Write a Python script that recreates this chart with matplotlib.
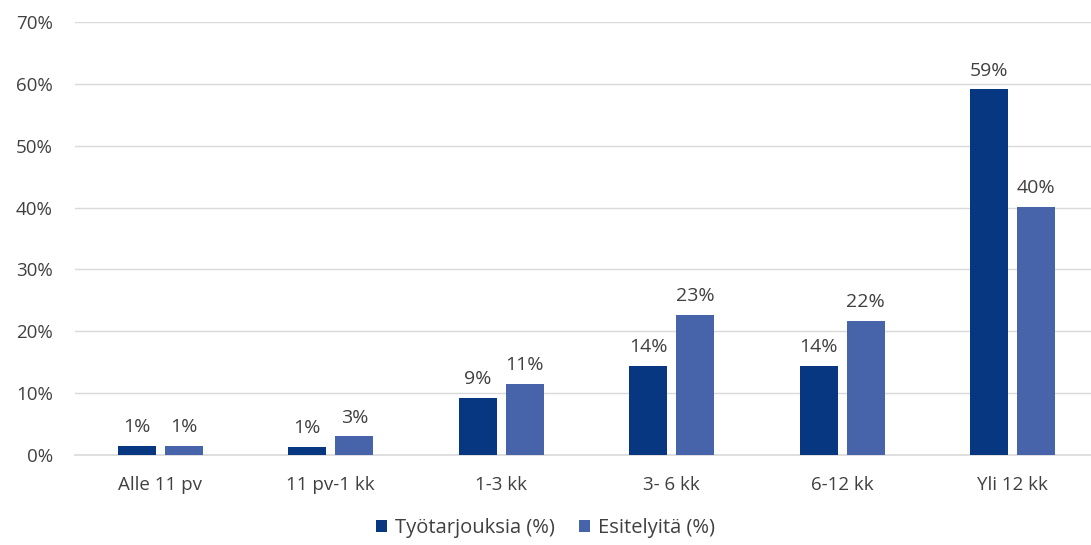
import numpy as np
import matplotlib.pyplot as plt
from matplotlib.ticker import FuncFormatter

# data
categories = ['Alle 11 pv', '11 pv-1 kk', '1-3 kk', '3- 6 kk', '6-12 kk', 'Yli 12 kk']
tyotarjouksia = [1.4, 1.3, 9.2, 14.4, 14.4, 59.1]
esittelyita = [1.4, 3.0, 11.5, 22.6, 21.6, 40.1]
labels_tyo = ['1%', '1%', '9%', '14%', '14%', '59%']
labels_esi = ['1%', '3%', '11%', '23%', '22%', '40%']
series_names = ['Työtarjouksia (%)', 'Esitelyitä (%)']

plt.rcParams['font.family'] = ['Open Sans', 'DejaVu Sans']
txt = '#404040'
fs = 13.5

fig = plt.figure(figsize=(10.91, 5.45), dpi=100)
ax = fig.add_axes([75 / 1091, 90 / 545, 1023 / 1091, 433 / 545])

x = np.arange(len(categories))
w = 0.223
gap = 0.053
b1 = ax.bar(x - (w + gap) / 2, tyotarjouksia, w, color='#083782', label=series_names[0], zorder=3)
b2 = ax.bar(x + (w + gap) / 2, esittelyita, w, color='#4763aa', label=series_names[1], zorder=3)

for bars, labs in ((b1, labels_tyo), (b2, labels_esi)):
    for r, lab in zip(bars, labs):
        ax.text(r.get_x() + r.get_width() / 2, r.get_height() + 1.6, lab,
                ha='center', va='bottom', fontsize=14, color=txt)

ax.set_xlim(-0.5, len(categories) - 0.5)
ax.set_ylim(0, 70)
ax.set_yticks(range(0, 71, 10))
ax.yaxis.set_major_formatter(FuncFormatter(lambda v, p: f'{v:.0f}%'))
ax.set_xticks(x)
ax.set_xticklabels(categories)
ax.tick_params(axis='both', length=0, labelsize=fs, labelcolor=txt)
ax.tick_params(axis='x', pad=15)
ax.tick_params(axis='y', pad=16)
ax.grid(axis='y', color='#d9d9d9', linewidth=1, zorder=0)
ax.axhline(0, color='#d9d9d9', linewidth=1.2, zorder=2, clip_on=False)
for s in ax.spines.values():
    s.set_visible(False)

fig.legend(handles=[b1, b2], loc='center', bbox_to_anchor=(0.5, 17 / 545), ncol=2,
           frameon=False, fontsize=14.5, handlelength=0.55, handleheight=0.55,
           columnspacing=1.2, handletextpad=0.4, labelcolor=txt)

fig.savefig('out.png', dpi=100)
